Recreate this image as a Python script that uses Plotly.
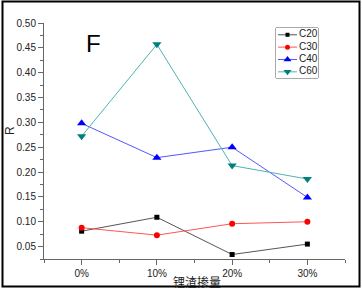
import plotly.graph_objects as go

categories = ["0%", "10%", "20%", "30%"]
series_names = ["C20", "C30", "C40", "C60"]
c20 = [0.081, 0.109, 0.034, 0.055]
c30 = [0.088, 0.073, 0.096, 0.100]
c40 = [0.298, 0.229, 0.250, 0.149]
c60 = [0.272, 0.457, 0.213, 0.186]
values = [c20, c30, c40, c60]

line_colors = ["#555555", "#ff5555", "#5555ff", "#4fb3b3"]
marker_colors = ["#000000", "#ff0000", "#0000ff", "#007f7f"]
symbols = ["square", "circle", "triangle-up", "triangle-down"]
sizes = [5, 6, 8, 8]

L, R, T, B = 44, 17, 23, 32
W, H = 362, 291
pw, ph = W - L - R, H - T - B


def px_x(p):
    return (p - L) / pw


def px_y(p):
    return (H - B - p) / ph


xs = list(range(len(categories)))
fig = go.Figure()
for name, vals, lc, mc, sym, ms in zip(series_names, values, line_colors, marker_colors, symbols, sizes):
    fig.add_trace(go.Scatter(
        x=xs, y=vals, name=name, mode="lines+markers", showlegend=False,
        line=dict(color=lc, width=1),
        marker=dict(color=mc, symbol=sym, size=ms, line=dict(width=0)),
        cliponaxis=False,
    ))

# compact legend drawn on an inset axis (legend box ~ 42px x 50px)
for i, (name, lc, mc, sym, ms) in enumerate(zip(series_names, line_colors, marker_colors, symbols, sizes)):
    fig.add_trace(go.Scatter(
        x=[2, 21], y=[i, i], mode="lines", showlegend=False, hoverinfo="skip",
        line=dict(color=lc, width=1), xaxis="x2", yaxis="y2",
    ))
    fig.add_trace(go.Scatter(
        x=[11.5], y=[i], mode="markers", showlegend=False, hoverinfo="skip",
        marker=dict(color=mc, symbol=sym, size=ms - 1, line=dict(width=0)),
        xaxis="x2", yaxis="y2",
    ))
    fig.add_trace(go.Scatter(
        x=[23], y=[i], mode="text", text=[name], textposition="middle right",
        showlegend=False, hoverinfo="skip",
        textfont=dict(size=10, color="#222222", family="Liberation Sans, Arial"),
        xaxis="x2", yaxis="y2", cliponaxis=False,
    ))

leg_x0, leg_x1, leg_y0, leg_y1 = 276, 318, 28, 78

fig.update_layout(
    width=W, height=H,
    margin=dict(l=L, r=R, t=T, b=B, autoexpand=False),
    paper_bgcolor="white", plot_bgcolor="white",
    font=dict(family="Liberation Sans, Arial", size=10, color="#222222"),
    showlegend=False,
    xaxis=dict(
        range=[-0.5, 3.5], tickvals=xs, ticktext=categories, automargin=False,
        showgrid=False, zeroline=False, showline=True, linecolor="#666666", linewidth=1,
        ticks="outside", ticklen=5, tickcolor="#666666",
        minor=dict(ticks="outside", ticklen=3, dtick=0.5, tick0=0, tickcolor="#666666"),
    ),
    yaxis=dict(
        range=[0.025, 0.5], dtick=0.05, tick0=0.05, tickformat=".2f", automargin=False,
        showgrid=False, zeroline=False, showline=True, linecolor="#666666", linewidth=1,
        ticks="outside", ticklen=5, tickcolor="#666666",
        minor=dict(ticks="outside", ticklen=3, dtick=0.025, tickcolor="#666666"),
    ),
    xaxis2=dict(
        domain=[px_x(leg_x0), px_x(leg_x1)], range=[0, leg_x1 - leg_x0], anchor="y2",
        visible=False, fixedrange=True,
    ),
    yaxis2=dict(
        domain=[px_y(leg_y1), px_y(leg_y0)], range=[3.5, -0.55], anchor="x2",
        visible=False, fixedrange=True,
    ),
    annotations=[
        dict(text="F", xref="paper", yref="paper", x=px_x(93), y=px_y(43),
             showarrow=False, font=dict(size=24, color="black"),
             xanchor="center", yanchor="middle"),
        dict(text="R", xref="paper", yref="paper", x=px_x(10), y=px_y(131),
             showarrow=False, textangle=-90, font=dict(size=12, color="#222222"),
             xanchor="center", yanchor="middle"),
        dict(text="锂渣掺量", xref="paper", yref="paper", x=px_x(197), y=px_y(281),
             showarrow=False, font=dict(family="Noto Sans CJK SC", size=12, color="#222222"),
             xanchor="center", yanchor="middle"),
    ],
    shapes=[
        dict(type="rect", xref="paper", yref="paper",
             x0=px_x(leg_x0), x1=px_x(leg_x1), y0=px_y(leg_y1), y1=px_y(leg_y0),
             line=dict(color="#555555", width=1), fillcolor="white", layer="below"),
        dict(type="rect", xref="paper", yref="paper",
             x0=px_x(2.5), x1=px_x(359.5), y0=px_y(286.5), y1=px_y(1.5),
             line=dict(color="black", width=2), fillcolor="rgba(0,0,0,0)", layer="above"),
    ],
)

fig.write_html(
    "out.html",
    config={"displayModeBar": False},
    post_script="document.body.style.margin='0';document.body.style.padding='0';document.body.style.overflow='hidden';",
)
